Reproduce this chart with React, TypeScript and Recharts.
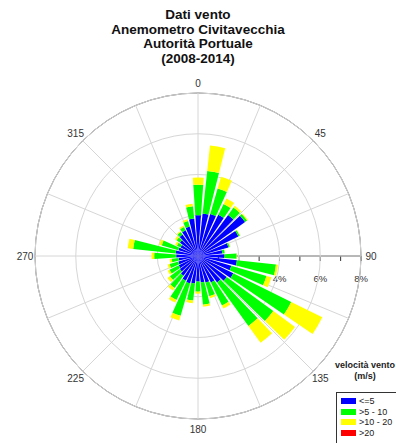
import React from 'react'
import {
  RadarChart,
  Radar,
  RadialBarChart,
  RadialBar,
  PolarGrid,
  PolarAngleAxis,
  PolarRadiusAxis,
} from 'recharts'

// direction bins, degrees clockwise from north, 10° wide
const directions = [
  0, 10, 20, 30, 40, 50, 60, 70, 80, 90, 100, 110, 120, 130, 140, 150, 160, 170,
  180, 190, 200, 210, 220, 230, 240, 250, 260, 270, 280, 290, 300, 310, 320, 330, 340, 350,
]

// frequency (%) per direction, split by wind speed class
const calmPct = [
  2.0, 2.1, 2.15, 2.25, 2.5, 2.85, 2.2, 1.55, 1.2, 1.3, 1.92, 1.7, 1.93, 1.75, 1.6, 1.45, 1.35, 1.3,
  1.25, 1.35, 1.4, 1.35, 1.2, 1.1, 1.05, 1.0, 0.95, 1.07, 1.1, 1.0, 0.95, 1.1, 1.3, 1.4, 1.5, 1.85,
]
const moderatePct = [
  1.5, 2.1, 1.3, 0.6, 0.45, 0.12, 0.08, 0.07, 0.12, 0.6, 1.93, 1.8, 3.17, 2.83, 2.63, 1.25, 0.7, 1.1,
  0.5, 0.85, 1.66, 1.05, 0.75, 0.6, 0.5, 0.45, 0.35, 1.08, 2.1, 0.85, 0.2, 0.2, 0.15, 0.18, 0.28, 0.6,
]
const strongPct = [
  0.35, 1.25, 0.6, 0.3, 0.1, 0.05, 0.02, 0.02, 0.01, 0.02, 0.1, 0.25, 1.7, 1.32, 1.02, 0.16, 0.1, 0.1,
  0.1, 0.13, 0.24, 0.15, 0.15, 0.15, 0.1, 0.1, 0.1, 0.13, 0.27, 0.13, 0.1, 0.1, 0.05, 0.07, 0.09, 0.13,
]
const galePct = [
  0, 0, 0, 0, 0, 0, 0, 0, 0, 0, 0, 0, 0, 0, 0, 0, 0, 0,
  0, 0, 0, 0, 0, 0, 0, 0, 0, 0, 0, 0, 0, 0, 0, 0, 0, 0,
]

const speedClasses = [
  { key: 'calm', label: '<=5', color: '#0000ff' },
  { key: 'moderate', label: '>5 - 10', color: '#00ff00' },
  { key: 'strong', label: '>10 - 20', color: '#ffff00' },
  { key: 'gale', label: '>20', color: '#ff0000' },
]

// grid spokes every 22.5°, labelled every 45°
const spokeAngles = [0, 22.5, 45, 67.5, 90, 112.5, 135, 157.5, 180, 202.5, 225, 247.5, 270, 292.5, 315, 337.5]
const ringTicks = [2, 4, 6, 8]
const minorTicks = [1, 2, 3, 4, 5, 6, 7, 8]
const labelledTicks = [4, 6, 8]
const maxPct = 8

const titleLines = ['Dati vento', 'Anemometro Civitavecchia', 'Autorità Portuale', '(2008-2014)']

const W = 396
const H = 443
const CX = 198
const CY = 256
const R = 163
const FONT = '"Liberation Sans", Arial, sans-serif'

const roseRows = directions.map((dir, i) => ({
  dir,
  calm: calmPct[i],
  moderate: moderatePct[i],
  strong: strongPct[i],
  gale: galePct[i],
}))

// full-scale reach per spoke, keeps the radius axis domain alive
const spokeRows = spokeAngles.map((angle) => ({ angle, reach: maxPct }))

// recharts measures angles counter-clockwise from east
const gridAngles = spokeAngles.map((b) => 90 - b)

const renderAngleTick = (props: any) => {
  const v = Number(props.payload?.value)
  if (v % 45 !== 0) return <g />
  return (
    <text
      x={props.x}
      y={props.y}
      textAnchor="middle"
      dominantBaseline="central"
      fontSize={10}
      fontFamily={FONT}
      fill="#333"
    >
      {v}
    </text>
  )
}

const renderRadiusTick = (props: any) => {
  const v = Number(props.payload?.value)
  return (
    <g>
      <line x1={props.x} y1={props.y} x2={props.x} y2={props.y + 5} stroke="#333" strokeWidth={1} />
      {labelledTicks.includes(v) && (
        <text
          x={props.x}
          y={props.y + 22}
          textAnchor="middle"
          dominantBaseline="central"
          fontSize={9.5}
          fontFamily={FONT}
          fill="#333"
        >
          {v}%
        </text>
      )}
    </g>
  )
}

const SpeedLegend = () => (
  <div style={{ position: 'absolute', left: 0, top: 0, width: W, height: H, pointerEvents: 'none' }}>
    <div
      style={{
        position: 'absolute',
        left: 325,
        top: 360,
        width: 80,
        textAlign: 'center',
        fontFamily: FONT,
        fontWeight: 'bold',
        fontSize: 9,
        lineHeight: '11px',
        color: '#222',
      }}
    >
      <div>velocità vento</div>
      <div>(m/s)</div>
    </div>
    <div
      style={{
        position: 'absolute',
        left: 336,
        top: 392,
        width: 80,
        height: 70,
        border: '1px solid #333',
        background: '#fff',
      }}
    >
      {speedClasses.map((c, i) => (
        <div
          key={c.key}
          style={{
            position: 'absolute',
            left: 4,
            top: 3 + i * 10.7,
            height: 10,
            display: 'flex',
            alignItems: 'center',
            fontFamily: FONT,
            fontSize: 9,
            color: '#222',
          }}
        >
          <span style={{ display: 'inline-block', width: 15, height: 6, background: c.color, marginRight: 3 }} />
          {c.label}
        </div>
      ))}
    </div>
  </div>
)

export default function App() {
  return (
    <div style={{ position: 'absolute', left: 0, top: 0, width: W, height: H, background: '#fff' }}>
      <div style={{ position: 'absolute', left: 0, top: 0 }}>
        <RadarChart
          width={W}
          height={H}
          cx={CX}
          cy={CY}
          outerRadius={R}
          startAngle={90}
          endAngle={-270}
          data={spokeRows}
          margin={{ top: 0, right: 0, bottom: 0, left: 0 }}
        >
          <PolarAngleAxis
            dataKey="angle"
            type="category"
            axisLineType="circle"
            axisLine={{ stroke: '#555' }}
            tickLine={false}
            tickSize={10}
            tick={renderAngleTick}
          />
          <PolarRadiusAxis
            angle={0}
            type="number"
            domain={[0, maxPct]}
            ticks={minorTicks}
            axisLine={{ stroke: '#333' }}
            tick={renderRadiusTick}
          />
          <Radar dataKey="reach" stroke="none" fill="none" dot={false} isAnimationActive={false} />
        </RadarChart>
      </div>
      <div style={{ position: 'absolute', left: 0, top: 0 }}>
        <RadialBarChart
          width={W}
          height={H}
          cx={CX}
          cy={CY}
          innerRadius={0}
          outerRadius={R}
          startAngle={85}
          endAngle={-275}
          layout="centric"
          data={roseRows}
          barCategoryGap="8%"
          margin={{ top: 0, right: 0, bottom: 0, left: 0 }}
        >
          <PolarGrid gridType="circle" stroke="#d6d6d6" polarAngles={gridAngles} />
          <PolarAngleAxis type="category" dataKey="dir" tick={false} tickLine={false} axisLine={false} />
          <PolarRadiusAxis type="number" domain={[0, maxPct]} ticks={ringTicks} tick={false} axisLine={false} />
          {speedClasses.map((c) => (
            <RadialBar key={c.key} dataKey={c.key} stackId="rose" fill={c.color} isAnimationActive={false} />
          ))}
        </RadialBarChart>
      </div>
      <div
        style={{
          position: 'absolute',
          left: 0,
          top: 8,
          width: W,
          textAlign: 'center',
          fontFamily: FONT,
          fontWeight: 'bold',
          fontSize: 13.5,
          lineHeight: '14.5px',
          color: '#111',
        }}
      >
        {titleLines.map((t) => (
          <div key={t}>{t}</div>
        ))}
      </div>
      <SpeedLegend />
    </div>
  )
}
